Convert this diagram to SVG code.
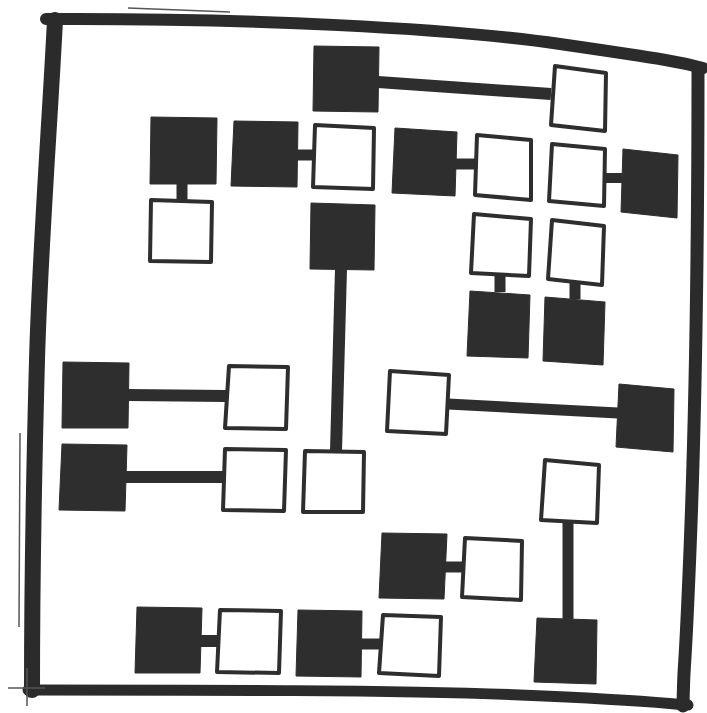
<svg xmlns="http://www.w3.org/2000/svg" width="707" height="713" viewBox="0 0 707 713">
<style>
.blk{fill:#2e2e2e;stroke:#2e2e2e;stroke-width:1;stroke-linejoin:round}
.wht{fill:#ffffff;stroke:#2e2e2e;stroke-width:4;stroke-linejoin:round}
.con{stroke:#2e2e2e;stroke-linecap:butt;fill:none}
.frame{stroke:#2b2b2b;fill:none;stroke-linecap:round;stroke-linejoin:round}
.thin{stroke:#555;stroke-width:1.5;fill:none}
</style>
<rect width="707" height="713" fill="#ffffff"/>
<g id="frame">
<path class="frame" stroke-width="12" d="M46,19 C250,18 450,28 560,44 S680,62 703,68"/>
<path class="frame" stroke-width="16" d="M55,20 C50,120 40,250 37,360 S32,600 32,690"/>
<path class="frame" stroke-width="11" d="M28,690 C200,690 400,690 520,695 S650,702 688,705"/>
<path class="frame" stroke-width="13" d="M698,68 C698,250 696,400 690,550 S684,650 683,706"/>
<path class="thin" d="M128,8 L230,12"/>
<path class="thin" d="M8,688 L45,688"/>
<path class="thin" d="M27,668 L27,706"/>
<path class="thin" d="M20,433 L19,627"/>
</g>
<g id="connectors">
<line class="con" stroke-width="12" x1="378" y1="82" x2="551" y2="94"/>
<line class="con" stroke-width="11" x1="182" y1="184" x2="182" y2="200"/>
<line class="con" stroke-width="11" x1="297" y1="155" x2="313" y2="155"/>
<line class="con" stroke-width="12" x1="341" y1="269" x2="336" y2="451"/>
<line class="con" stroke-width="11" x1="455" y1="164" x2="476" y2="164"/>
<line class="con" stroke-width="10" x1="605" y1="178" x2="622" y2="178"/>
<line class="con" stroke-width="11" x1="500" y1="275" x2="500" y2="292"/>
<line class="con" stroke-width="11" x1="575" y1="283" x2="575" y2="299"/>
<line class="con" stroke-width="11" x1="448" y1="404" x2="618" y2="413"/>
<line class="con" stroke-width="11" x1="568" y1="522" x2="568" y2="619"/>
<line class="con" stroke-width="11" x1="445" y1="567" x2="463" y2="567"/>
<line class="con" stroke-width="11" x1="361" y1="644" x2="381" y2="644"/>
<line class="con" stroke-width="12" x1="128" y1="395" x2="226" y2="396"/>
<line class="con" stroke-width="12" x1="125" y1="477" x2="223" y2="477"/>
<line class="con" stroke-width="12" x1="200" y1="641" x2="218" y2="641"/>
</g>
<g id="nA"><polygon class="blk" points="314,46 379,47 378,112 313,111"/></g>
<g id="nB"><polygon class="blk" points="151,117 217,118 216,184 150,184"/></g>
<g id="nB2"><polygon class="wht" points="151,200 212,202 211,262 150,261"/></g>
<g id="nC"><polygon class="blk" points="234,121 298,122 297,187 231,186"/></g>
<g id="nD"><polygon class="wht" points="315,125 374,128 373,189 313,187"/></g>
<g id="nE"><polygon class="blk" points="311,203 375,205 374,270 310,269"/></g>
<g id="nF"><polygon class="wht" points="305,451 364,452 363,512 303,512"/></g>
<g id="nG"><polygon class="wht" points="555,66 606,73 605,131 551,125"/></g>
<g id="nH"><polygon class="blk" points="395,128 457,132 455,196 392,193"/></g>
<g id="nI"><polygon class="wht" points="477,135 531,140 531,200 475,195"/></g>
<g id="nJ"><polygon class="wht" points="552,144 605,149 604,206 549,201"/></g>
<g id="nK"><polygon class="blk" points="623,149 678,155 677,218 621,212"/></g>
<g id="nL"><polygon class="wht" points="474,214 531,219 529,276 471,273"/></g>
<g id="nM"><polygon class="blk" points="470,291 530,295 528,358 467,356"/></g>
<g id="nN"><polygon class="wht" points="552,220 604,226 602,285 548,279"/></g>
<g id="nO"><polygon class="blk" points="545,297 605,302 603,365 543,361"/></g>
<g id="nP"><polygon class="wht" points="390,371 449,375 446,434 387,431"/></g>
<g id="nQ"><polygon class="blk" points="619,384 674,389 673,452 616,447"/></g>
<g id="nR"><polygon class="wht" points="545,460 599,465 597,523 541,520"/></g>
<g id="nS"><polygon class="blk" points="537,618 597,620 596,684 534,682"/></g>
<g id="nT"><polygon class="blk" points="382,533 447,534 444,599 379,598"/></g>
<g id="nU"><polygon class="wht" points="465,538 522,541 521,600 462,597"/></g>
<g id="nV"><polygon class="wht" points="383,615 441,617 439,676 379,673"/></g>
<g id="nW"><polygon class="blk" points="298,610 362,611 361,677 296,676"/></g>
<g id="nX"><polygon class="blk" points="63,362 129,363 128,428 62,428"/></g>
<g id="nY"><polygon class="wht" points="229,366 288,367 286,429 225,428"/></g>
<g id="nZ"><polygon class="blk" points="62,444 127,445 125,511 59,510"/></g>
<g id="nAA"><polygon class="wht" points="225,449 286,450 284,511 223,510"/></g>
<g id="nBB"><polygon class="blk" points="137,607 202,608 200,673 135,673"/></g>
<g id="nCC"><polygon class="wht" points="220,610 281,611 279,673 217,672"/></g>
</svg>
